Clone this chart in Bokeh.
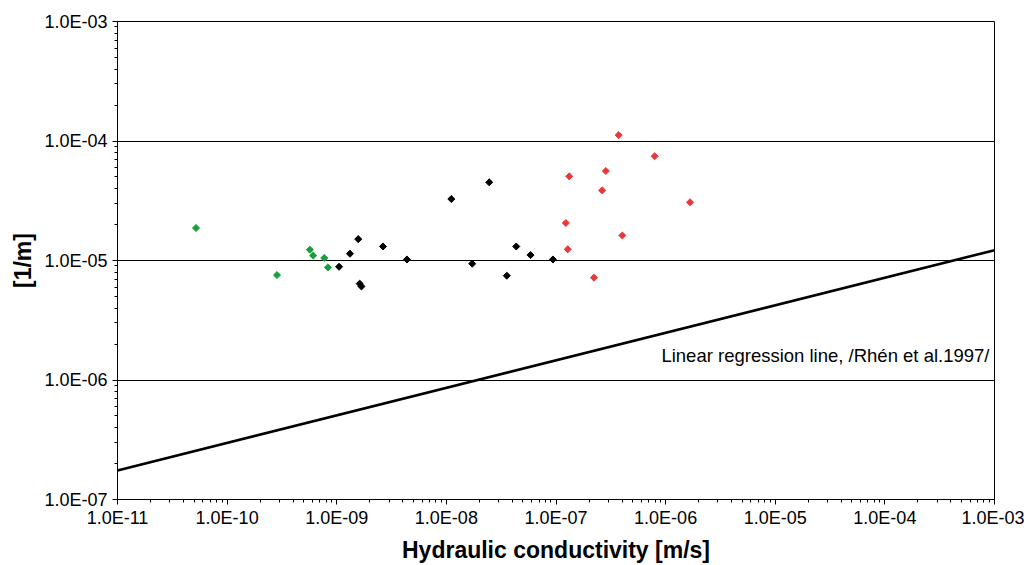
import numpy as np
from bokeh.plotting import figure
from bokeh.models import FixedTicker, CustomJSTickFormatter, Label, Range1d
from bokeh.embed import file_html
from bokeh.resources import INLINE

# Data
green_k = [5.2e-11, 2.85e-10, 5.69e-10, 6.1e-10, 7.69e-10, 8.3e-10]
green_a = [1.87e-5, 7.55e-6, 1.23e-5, 1.10e-5, 1.05e-5, 8.75e-6]
black_k = [1.05e-9, 1.32e-9, 1.57e-9, 1.62e-9, 1.68e-9, 2.64e-9, 4.37e-9,
           1.11e-8, 1.72e-8, 2.46e-8, 3.56e-8, 4.34e-8, 5.86e-8, 9.38e-8]
black_a = [8.87e-6, 1.14e-5, 1.51e-5, 6.4e-6, 6.07e-6, 1.31e-5, 1.02e-5,
           3.27e-5, 9.4e-6, 4.51e-5, 7.46e-6, 1.31e-5, 1.11e-5, 1.02e-5]
red_k = [1.23e-7, 1.28e-7, 1.32e-7, 2.22e-7, 2.64e-7, 2.85e-7, 3.73e-7,
         4.03e-7, 7.94e-7, 1.67e-6]
red_a = [2.06e-5, 1.24e-5, 5.06e-5, 7.18e-6, 3.86e-5, 5.61e-5, 1.12e-4,
         1.62e-5, 7.45e-5, 3.07e-5]
reg_k = [1e-11, 1e-3]
reg_a = [1.75e-7, 1.22e-5]
reg_label = "Linear regression line, /Rhén et al.1997/"

x_exps = list(range(-11, -2))
y_exps = list(range(-7, -2))
x_ticks = [10.0 ** e for e in x_exps]
y_ticks = [10.0 ** e for e in y_exps]
x_minor = [m * 10.0 ** e for e in x_exps[:-1] for m in range(2, 10)]
y_minor = [m * 10.0 ** e for e in y_exps[:-1] for m in range(2, 10)]

FONT = "Liberation Sans"

p = figure(width=1024, height=565, x_axis_type="log", y_axis_type="log",
           x_range=Range1d(1e-11, 1e-3), y_range=Range1d(1e-7, 1e-3),
           output_backend="svg", toolbar_location=None,
           min_border_left=117, min_border_right=30,
           min_border_top=21, min_border_bottom=66)
p.background_fill_color = "white"
p.border_fill_color = "white"
p.outline_line_color = "black"
p.outline_line_width = 1

fmt = CustomJSTickFormatter(code="""
const s = tick.toExponential(1);
const parts = s.split('e');
const n = parseInt(parts[1]);
const a = Math.abs(n);
return parts[0] + 'E' + (n < 0 ? '-' : '+') + (a < 10 ? '0' : '') + a;
""")

p.xaxis.ticker = FixedTicker(ticks=x_ticks, minor_ticks=x_minor)
p.yaxis.ticker = FixedTicker(ticks=y_ticks, minor_ticks=y_minor)
for ax in (p.xaxis, p.yaxis):
    ax.formatter = fmt
    ax.major_label_text_font = FONT
    ax.major_label_text_font_size = "18px"
    ax.major_label_text_color = "black"
    ax.axis_line_color = "black"
    ax.major_tick_line_color = "black"
    ax.minor_tick_line_color = "black"
    ax.major_tick_in = 0
    ax.major_tick_out = 5
    ax.minor_tick_in = 0
    ax.minor_tick_out = 3
    ax.axis_label_text_font = FONT
    ax.axis_label_text_font_style = "bold"
    ax.axis_label_text_font_size = "23px"
    ax.axis_label_text_color = "black"

p.xaxis.axis_label = "Hydraulic conductivity [m/s]"
p.yaxis.axis_label = "[1/m]"
p.xaxis.major_label_standoff = 3
p.yaxis.major_label_standoff = 5
p.xaxis.axis_label_standoff = 6
p.yaxis.axis_label_standoff = 5

p.xgrid.visible = False
p.ygrid.ticker = FixedTicker(ticks=y_ticks)
p.ygrid.grid_line_color = "black"
p.ygrid.grid_line_width = 1

p.line(reg_k, reg_a, line_color="black", line_width=2.6)

for xs, ys, col in ((green_k, green_a, "#1a9e3c"),
                    (black_k, black_a, "#000000"),
                    (red_k, red_a, "#e8393a")):
    p.scatter(xs, ys, marker="square", size=5, angle=np.pi / 4,
              fill_color=col, line_color=col, line_width=1)

p.add_layout(Label(x=9.0e-4, y=1.6e-6, text=reg_label, text_align="right",
                   text_baseline="middle", text_font=FONT,
                   text_font_size="18.5px", text_color="black"))

open("out.html", "w").write(file_html(p, INLINE))
